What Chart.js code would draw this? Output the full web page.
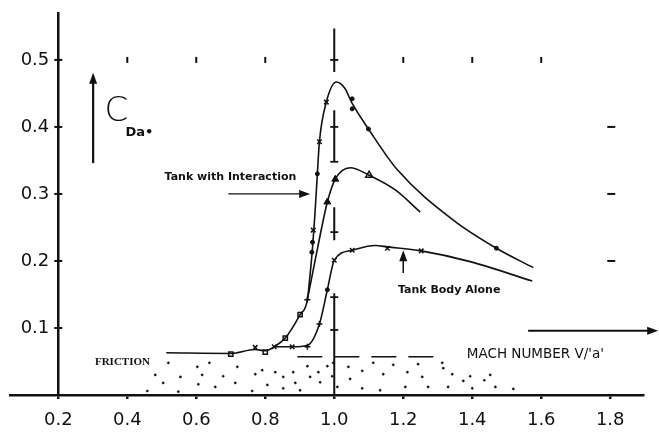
<!DOCTYPE html>
<html>
<head>
<meta charset="utf-8">
<title>Cda vs Mach</title>
<script src="https://cdn.jsdelivr.net/npm/chart.js@4.4.0/dist/chart.umd.min.js"></script>
<style>
  html, body { margin: 0; padding: 0; background: #fff; }
  #wrap { width: 659px; height: 434px; }
</style>
</head>
<body>
<div id="wrap"><canvas id="myChartCd"></canvas></div>
<script>
//? Données.

const xTickValues = [0.2, 0.4, 0.6, 0.8, 1.0, 1.2, 1.4, 1.6, 1.8];
const xTickLabels = ["0.2", "0.4", "0.6", "0.8", "1.0", "1.2", "1.4", "1.6", "1.8"];
const yTickValues = [0.1, 0.2, 0.3, 0.4, 0.5];
const yTickLabels = ["0.1", "0.2", "0.3", "0.4", "0.5"];

// Tank with Interaction (courbe haute)
const interactionMach = [0.513, 0.70, 0.77, 0.80, 0.826, 0.858, 0.901, 0.922, 0.93, 0.937, 0.944, 0.951, 0.957, 0.977, 1.006, 1.03, 1.052, 1.099, 1.183, 1.345, 1.47, 1.577];
const interactionCd = [0.063, 0.062, 0.068, 0.066, 0.072, 0.085, 0.12, 0.142, 0.18, 0.22, 0.27, 0.33, 0.378, 0.437, 0.467, 0.458, 0.435, 0.397, 0.336, 0.261, 0.219, 0.19];

// courbe intermédiaire (triangles)
const triangleMach = [0.922, 0.95, 0.98, 1.003, 1.046, 1.101, 1.177, 1.249];
const triangleCd = [0.142, 0.215, 0.288, 0.322, 0.339, 0.328, 0.306, 0.273];

// Tank Body Alone
const bodyMach = [0.826, 0.878, 0.922, 0.957, 0.98, 1.0, 1.052, 1.119, 1.154, 1.252, 1.394, 1.574];
const bodyCd = [0.072, 0.072, 0.074, 0.106, 0.157, 0.201, 0.216, 0.223, 0.221, 0.215, 0.199, 0.17];

// marqueurs
const squareMach = [0.70, 0.80, 0.858, 0.901];
const squareCd = [0.061, 0.064, 0.085, 0.12];
const crossMach = [0.771, 0.826, 0.878, 0.939, 0.957, 0.977, 1.0, 1.052, 1.154, 1.252];
const crossCd = [0.071, 0.072, 0.072, 0.246, 0.378, 0.437, 0.201, 0.216, 0.219, 0.215];
const dotMach = [0.935, 0.937, 0.951, 1.052, 1.052, 1.099, 1.47, 0.98];
const dotCd = [0.213, 0.228, 0.33, 0.442, 0.427, 0.397, 0.219, 0.157];
const plusMach = [0.922, 0.922, 0.957];
const plusCd = [0.142, 0.072, 0.106];
const fullTriMach = [0.98, 1.003];
const fullTriCd = [0.288, 0.322];
const openTriMach = [1.101];
const openTriCd = [0.328];

// friction
const frictionMach = [0.893, 1.313];
const frictionCd = [0.057, 0.057];

// ligne verticale Mach 1 (null = coupure)
const machOneCd = [0.547, 0.482, null, 0.425, 0.348, null, 0.28, 0.231, null, 0.152, 0];
const machOneTicksCd = [0.5, 0.4, 0.348, 0.243, 0.146, 0.097];

// petits repères
const topMarkMach = [0.4, 0.6, 0.8, 1.2, 1.4, 1.6];
const rightMarkCd = [0.4, 0.3, 0.2];

// pointillé sous la friction
const stippleMach = [0.519, 0.603, 0.638, 0.719, 0.481, 0.554, 0.617, 0.678, 0.771, 0.791, 0.504, 0.606, 0.655, 0.713, 0.762, 0.806, 0.852, 0.887, 0.458, 0.548, 0.852, 0.881, 0.922, 0.93, 0.959, 0.98, 0.954, 0.901, 0.829, 0.997, 1.041, 1.113, 1.171, 1.243, 1.313, 0.994, 1.046, 1.081, 1.142, 1.212, 1.255, 1.342, 1.394, 1.452, 1.009, 1.081, 1.133, 1.206, 1.272, 1.33, 1.374, 1.4, 1.435, 1.467, 1.519, 1.316];
const stippleCd = [0.048, 0.042, 0.048, 0.042, 0.03, 0.027, 0.03, 0.028, 0.031, 0.037, 0.018, 0.016, 0.012, 0.018, 0.006, 0.015, 0.01, 0.018, 0.006, 0.005, 0.027, 0.034, 0.043, 0.027, 0.019, 0.043, 0.034, 0.007, 0.034, 0.048, 0.042, 0.048, 0.045, 0.046, 0.048, 0.028, 0.024, 0.036, 0.031, 0.034, 0.027, 0.031, 0.028, 0.03, 0.012, 0.01, 0.007, 0.012, 0.012, 0.012, 0.021, 0.01, 0.022, 0.012, 0.009, 0.04];

//? -------------------------------------------------

const toPoints = (xs, ys) => xs.map((x, i) => ({ x, y: ys[i] }));

const ink = "#111";

const curve = (label, xs, ys) => ({
  label,
  data: toPoints(xs, ys),
  showLine: true,
  borderColor: ink,
  borderWidth: 1.6,
  cubicInterpolationMode: "monotone",
  pointRadius: 0,
});

const marks = (label, xs, ys, style, radius, filled, width) => ({
  label,
  data: toPoints(xs, ys),
  showLine: false,
  pointStyle: style,
  pointRadius: radius,
  pointBorderColor: ink,
  pointBackgroundColor: filled ? ink : "#fff",
  pointBorderWidth: width || 1.5,
});

//? Annotations (textes et flèches).

const annotationsPlugin = {
  id: "annotations",
  afterDraw(chart) {
    const { ctx } = chart;
    const sx = chart.scales.x;
    const sy = chart.scales.y;
    const px = (m) => sx.getPixelForValue(m);
    const py = (c) => sy.getPixelForValue(c);

    const arrow = (m1, c1, m2, c2, w) => {
      const x1 = px(m1), y1 = py(c1), x2 = px(m2), y2 = py(c2);
      const a = Math.atan2(y2 - y1, x2 - x1);
      ctx.save();
      ctx.strokeStyle = ink;
      ctx.fillStyle = ink;
      ctx.lineWidth = w;
      ctx.beginPath();
      ctx.moveTo(x1, y1);
      ctx.lineTo(x2 - 6 * Math.cos(a), y2 - 6 * Math.sin(a));
      ctx.stroke();
      ctx.beginPath();
      ctx.moveTo(x2, y2);
      ctx.lineTo(x2 - 11 * Math.cos(a) + 4 * Math.sin(a), y2 - 11 * Math.sin(a) - 4 * Math.cos(a));
      ctx.lineTo(x2 - 11 * Math.cos(a) - 4 * Math.sin(a), y2 - 11 * Math.sin(a) + 4 * Math.cos(a));
      ctx.closePath();
      ctx.fill();
      ctx.restore();
    };

    const text = (str, m, c, font, align) => {
      ctx.save();
      ctx.fillStyle = ink;
      ctx.font = font;
      ctx.textAlign = align || "center";
      ctx.textBaseline = "middle";
      ctx.fillText(str, px(m), py(c));
      ctx.restore();
    };

    // C Da0
    arrow(0.301, 0.346, 0.301, 0.481, 2.2);
    text("C", 0.368, 0.422, "300 34px 'DejaVu Sans'");
    text("Da•", 0.395, 0.392, "bold 13px 'DejaVu Sans'", "left");

    text("Tank with Interaction", 0.699, 0.325, "bold 11px 'DejaVu Sans'");
    arrow(0.693, 0.30, 0.93, 0.30, 1.3);

    text("Tank Body Alone", 1.333, 0.157, "bold 11px 'DejaVu Sans'");
    arrow(1.2, 0.182, 1.2, 0.216, 1.5);

    text("MACH NUMBER V/'a'", 1.583, 0.061, "13.5px 'DejaVu Sans'");
    arrow(1.562, 0.096, 1.939, 0.096, 2);

    text("FRICTION", 0.386, 0.049, "bold 11px 'Liberation Serif'");
  },
};

//? Construction du graphique.

const constructionDuGraphique = () => {
  const ctx = document.getElementById("myChartCd").getContext("2d");

  const datasets = [
    curve("Tank with Interaction", interactionMach, interactionCd),
    curve("Triangles", triangleMach, triangleCd),
    curve("Tank Body Alone", bodyMach, bodyCd),
    {
      label: "Friction",
      data: toPoints(frictionMach, frictionCd),
      showLine: true,
      borderColor: ink,
      borderWidth: 1.6,
      borderDash: [25, 12],
      pointRadius: 0,
    },
    {
      label: "Mach 1",
      data: machOneCd.map((c) => ({ x: 1.0, y: c })),
      showLine: true,
      spanGaps: false,
      borderColor: ink,
      borderWidth: 2,
      pointRadius: 0,
    },
    marks("Mach 1 ticks", machOneTicksCd.map(() => 1.0), machOneTicksCd, "line", 4, true, 1.8),
    marks("Y ticks", yTickValues.map(() => 0.2), yTickValues, "line", 4, true, 2),
    {
      ...marks("Top marks", topMarkMach, topMarkMach.map(() => 0.5), "line", 3, true, 2),
      rotation: 90,
    },
    marks("Right marks", rightMarkCd.map(() => 1.803), rightMarkCd, "line", 4, true, 2),
    marks("Stipple", stippleMach, stippleCd, "circle", 1.1, true, 0.5),
    marks("Squares", squareMach, squareCd, "rect", 3, false, 1.5),
    marks("Crosses", crossMach, crossCd, "crossRot", 3.2, true, 1.5),
    marks("Dots", dotMach, dotCd, "circle", 2, true, 1),
    marks("Plus", plusMach, plusCd, "cross", 3, true, 1.5),
    marks("Full triangles", fullTriMach, fullTriCd, "triangle", 4, true, 1),
    marks("Open triangle", openTriMach, openTriCd, "triangle", 4, false, 1.5),
  ];

  new Chart(ctx, {
    type: "scatter",
    data: { datasets },
    options: {
      responsive: true,
      maintainAspectRatio: false,
      animation: false,
      layout: { padding: { left: 10, right: 16, top: 13, bottom: 5 } },
      plugins: { legend: { display: false }, tooltip: { enabled: false } },
      scales: {
        x: {
          type: "linear",
          min: 0.06,
          max: 1.895,
          afterBuildTicks: (axis) => {
            axis.ticks = xTickValues.map((v) => ({ value: v }));
          },
          afterFit: (axis) => {
            axis.height = 34;
          },
          ticks: {
            color: ink,
            padding: 11,
            font: { family: "'DejaVu Sans'", size: 18 },
            callback: (v) => xTickLabels[xTickValues.indexOf(v)] ?? "",
          },
          grid: { drawOnChartArea: false, color: ink, lineWidth: 2.5, tickLength: 4 },
          border: { display: true, color: ink, width: 2.5 },
        },
        y: {
          type: "linear",
          min: 0,
          max: 0.57,
          position: { x: 0.2 },
          afterBuildTicks: (axis) => {
            axis.ticks = yTickValues.map((v) => ({ value: v }));
          },
          ticks: {
            color: ink,
            padding: 0,
            font: { family: "'DejaVu Sans'", size: 18 },
            // l'espace final décale le libellé à gauche de l'axe
            callback: (v) => (yTickLabels[yTickValues.indexOf(v)] ?? "") + "\u2002",
          },
          grid: { display: false },
          border: { display: true, color: ink, width: 2.5 },
        },
      },
    },
    plugins: [annotationsPlugin],
  });
};

try {
  constructionDuGraphique();
} catch (err) {
  console.log("ERREUR | Construction graphique", err);
}
</script>
</body>
</html>
